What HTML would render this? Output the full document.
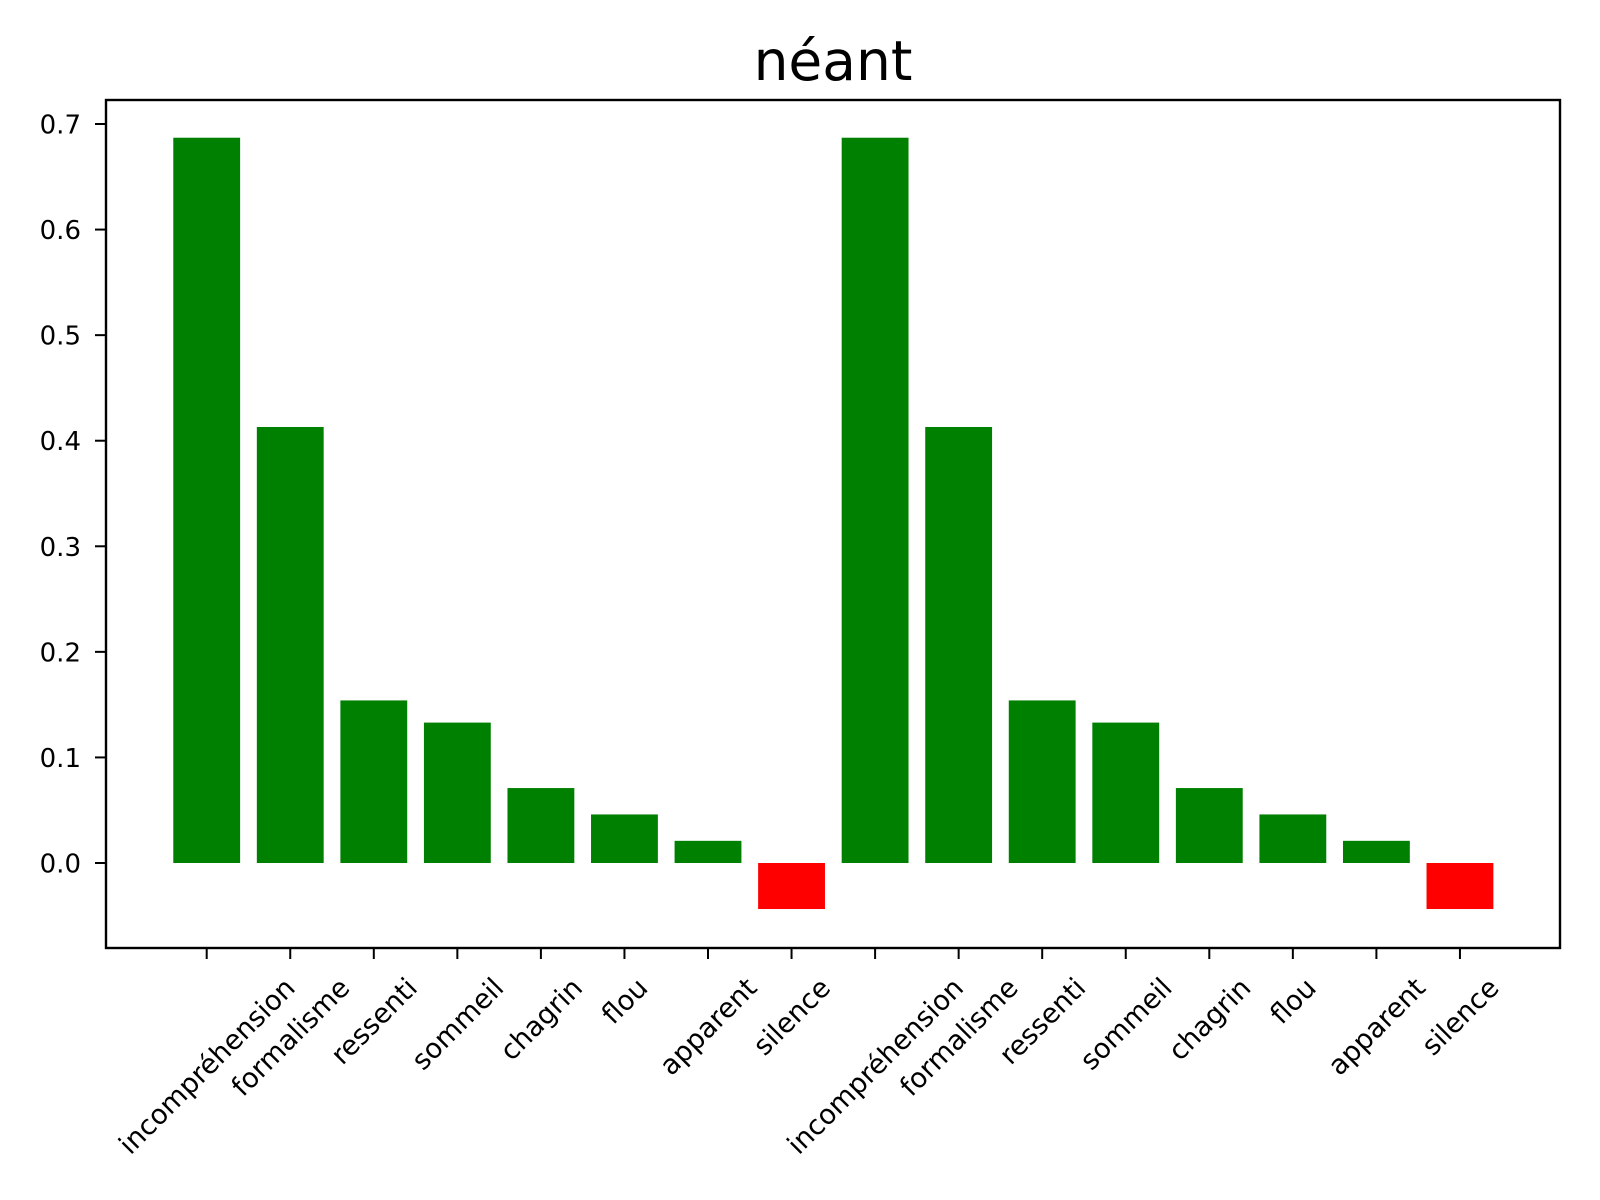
<!DOCTYPE html>
<html><head><meta charset="utf-8"><style>
html,body{margin:0;padding:0;background:#fff;}
svg{display:block;font-family:"DejaVu Sans","Liberation Sans",sans-serif;}
</style></head><body>
<svg id="chart" width="1600" height="1200" viewBox="0 0 1600 1200">
<text x="833" y="80" font-size="55" text-anchor="middle">néant</text>
<g id="bars"></g>
<g id="yticks"></g>
<g id="xticks"></g>
<rect x="106" y="100" width="1454" height="848" fill="none" stroke="#000" stroke-width="2.4"/>
</svg>
<script>
const categories = ["incompréhension","formalisme","ressenti","sommeil","chagrin","flou","apparent","silence","incompréhension","formalisme","ressenti","sommeil","chagrin","flou","apparent","silence"];
const values = [0.687,0.413,0.154,0.133,0.071,0.046,0.021,-0.0436,0.687,0.413,0.154,0.133,0.071,0.046,0.021,-0.0436];
const yTicks = [0.0,0.1,0.2,0.3,0.4,0.5,0.6,0.7];
const yTickLabels = ["0.0","0.1","0.2","0.3","0.4","0.5","0.6","0.7"];

const NS="http://www.w3.org/2000/svg";
const x0=206.7, step=83.55;
function xScale(i){return x0+i*step;}
const y0=863, yPer=(863-124)/0.7;
function yScale(v){return y0-v*yPer;}
const fs=27.3, yfs=26;

const bars=document.getElementById('bars');
values.forEach((v,i)=>{
  const r=document.createElementNS(NS,'rect');
  const w=step*0.8;
  r.setAttribute('x',xScale(i)-w/2);
  r.setAttribute('width',w);
  r.setAttribute('y',Math.min(yScale(v),yScale(0)));
  r.setAttribute('height',Math.abs(yScale(v)-yScale(0)));
  r.setAttribute('fill',v<0?'#ff0000':'#008000');
  
  
  bars.appendChild(r);
});

const yt=document.getElementById('yticks');
yTicks.forEach((t,i)=>{
  const y=yScale(t);
  const l=document.createElementNS(NS,'line');
  l.setAttribute('x1',95);l.setAttribute('x2',106);l.setAttribute('y1',y);l.setAttribute('y2',y);
  l.setAttribute('stroke','#000');l.setAttribute('stroke-width','2');
  
  
  yt.appendChild(l);
  const tx=document.createElementNS(NS,'text');
  tx.setAttribute('x',81);tx.setAttribute('y',y+9.5);
  tx.setAttribute('font-size',yfs);tx.setAttribute('text-anchor','end');
  tx.textContent=yTickLabels[i];
  
  
  yt.appendChild(tx);
});

const xt=document.getElementById('xticks');
categories.forEach((c,i)=>{
  const x=xScale(i);
  const l=document.createElementNS(NS,'line');
  l.setAttribute('x1',x);l.setAttribute('x2',x);l.setAttribute('y1',948);l.setAttribute('y2',959);
  l.setAttribute('stroke','#000');l.setAttribute('stroke-width','2');
  
  
  xt.appendChild(l);
  const tx=document.createElementNS(NS,'text');
  tx.setAttribute('font-size',fs);tx.setAttribute('text-anchor','end');
  tx.textContent=c;
  
  
  xt.appendChild(tx);
  const L=tx.getComputedTextLength();
  const ax=x+L/(2*Math.SQRT2)+0.25*fs;
  const ay=975+0.53*fs;
  tx.setAttribute('x',ax);tx.setAttribute('y',ay);
  tx.setAttribute('transform','rotate(-45 '+ax+' '+ay+')');
});
</script>
</body></html>
